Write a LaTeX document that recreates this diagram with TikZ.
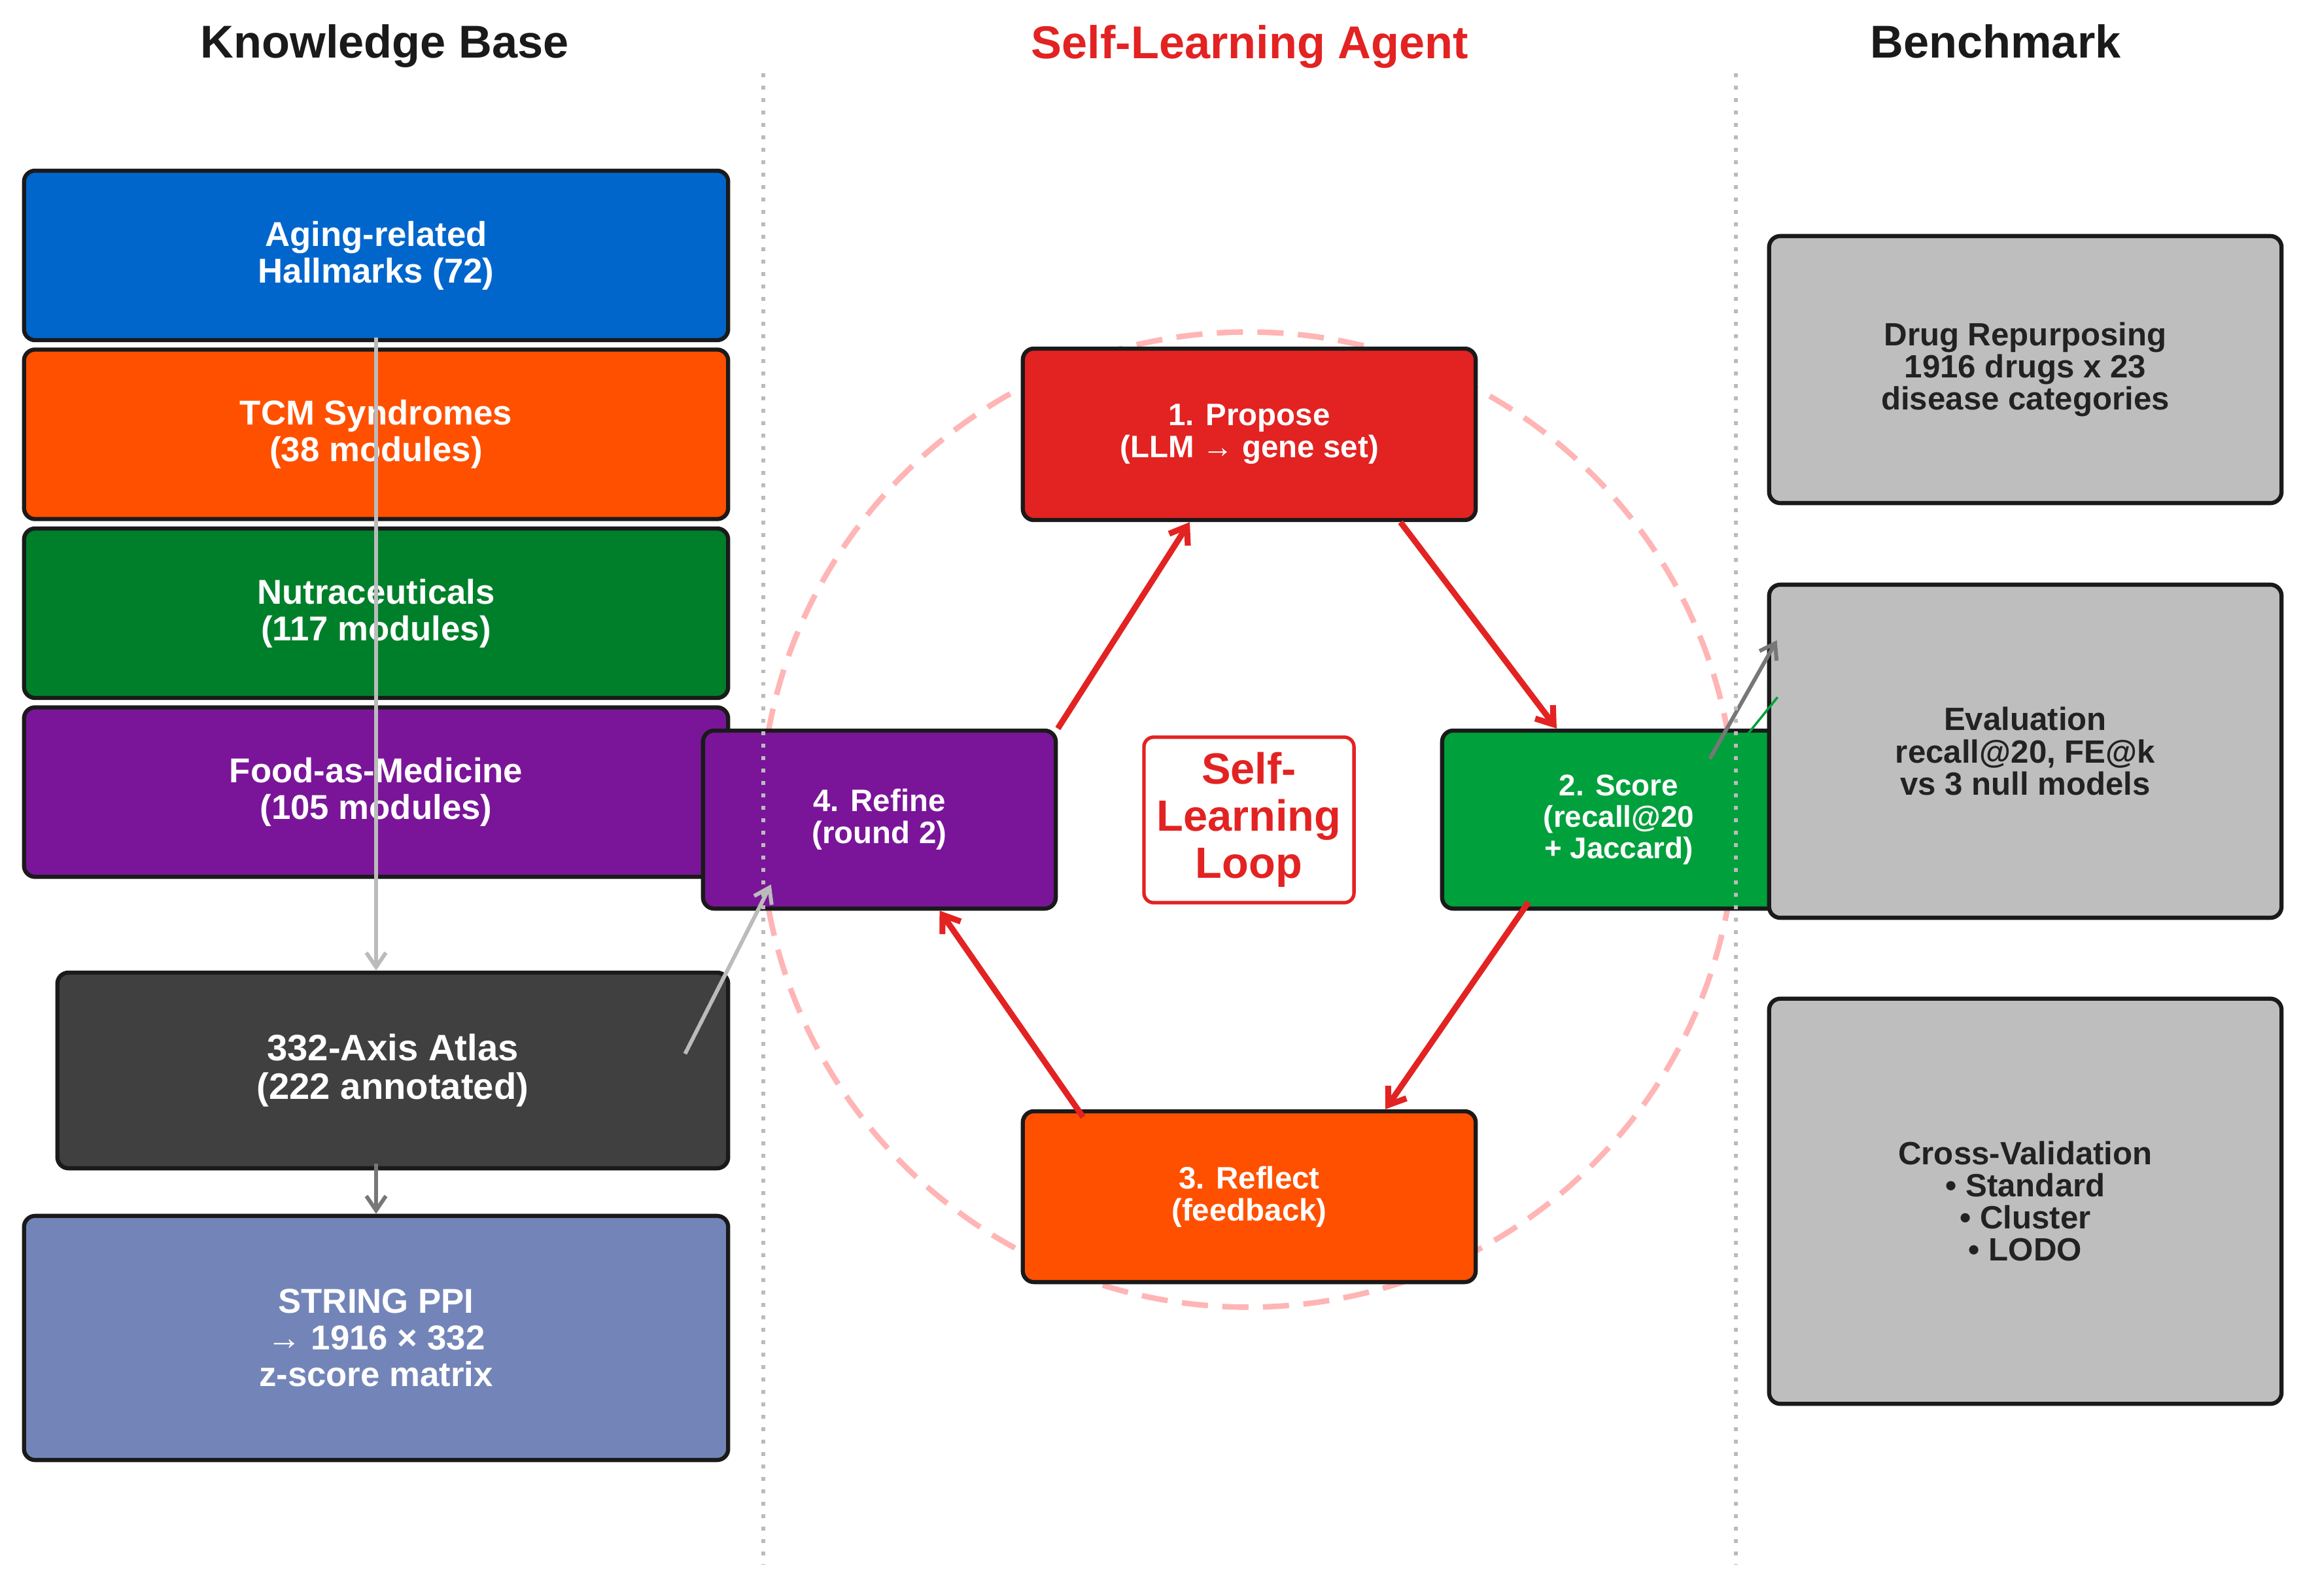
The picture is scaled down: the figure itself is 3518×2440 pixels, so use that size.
\documentclass[tikz,border=0pt]{standalone}
\usepackage{fontspec}
\setmainfont{Liberation Sans}
\usetikzlibrary{arrows.meta,calc}
\definecolor{cAging}{HTML}{0066CC}
\definecolor{cTCM}{HTML}{FF5000}
\definecolor{cNutra}{HTML}{007F2A}
\definecolor{cFood}{HTML}{7A1599}
\definecolor{cAtlas}{HTML}{404040}
\definecolor{cString}{HTML}{7385B8}
\definecolor{cPropose}{HTML}{E32222}
\definecolor{cScore}{HTML}{00A03C}
\definecolor{cBench}{HTML}{BEBEBE}
\definecolor{cRed}{HTML}{E32222}
\definecolor{cCircle}{HTML}{FFB5B5}
\definecolor{cLight}{HTML}{BBBBBB}
\definecolor{cDark}{HTML}{777777}
\definecolor{cLine}{HTML}{1A1A1A}
\definecolor{cDiv}{HTML}{BBBBBB}
\definecolor{cBenchText}{HTML}{222222}
\begin{document}
\begin{tikzpicture}[x=0.01cm,y=-0.01cm,
  box/.style={draw=cLine,line width=1.8pt,rounded corners=0.17cm,align=center,inner sep=0pt,text=white,font=\bfseries\fontsize{15}{16}\selectfont},
  kb/.style={box,minimum width=10.76cm,minimum height=2.59cm},
  loopbox/.style={box,font=\bfseries\fontsize{13.5}{14}\selectfont},
  bench/.style={box,fill=cBench,text=cBenchText,minimum width=7.83cm,font=\bfseries\fontsize{14}{14}\selectfont},
  title/.style={inner sep=0pt,anchor=base,font=\bfseries\fontsize{20}{24}\selectfont,text=cLine},
  redarrow/.style={draw=cRed,line width=2.6pt,-{Straight Barb[length=0.24cm,width=0.34cm]}},
  grayarrow/.style={draw=cLight,line width=1.7pt,-{Straight Barb[length=0.22cm,width=0.3cm]}},
  darkarrow/.style={grayarrow,draw=cDark},
  divider/.style={draw=cDiv,line width=1.7pt,dash pattern=on 1.7pt off 3.7pt}
]
\useasboundingbox (0,0) rectangle (3518,2440);
\fill[white] (0,0) rectangle (3518,2440);

% titles
\node[title] (tkb) at (588,89) {Knowledge Base};
\node[title,text=cRed] (tagent) at (1911,90) {Self-Learning Agent};
\node[title] (tbench) at (3051,89) {Benchmark};

% loop circle (behind)
\draw[cCircle,line width=2.4pt,dash pattern=on 0.4cm off 0.22cm] (1908,1253) circle[radius=7.45cm];

% knowledge base
\node[kb,fill=cAging] (aging) at (575,390.5) {Aging-related\\Hallmarks (72)};
\node[kb,fill=cTCM] (tcm) at (575,664) {TCM Syndromes\\(38 modules)};
\node[kb,fill=cNutra] (nutra) at (575,937.5) {Nutraceuticals\\(117 modules)};
\node[kb,fill=cFood] (food) at (575,1211) {Food-as-Medicine\\(105 modules)};
\node[box,fill=cAtlas,minimum width=10.25cm,minimum height=2.99cm,font=\bfseries\fontsize{16}{17}\selectfont] (atlas) at (600.5,1636.5) {332-Axis Atlas\\(222 annotated)};
\node[box,fill=cString,minimum width=10.76cm,minimum height=3.73cm] (string) at (575,2045.5) {STRING PPI\\→ 1916 × 332\\z-score matrix};

% loop
\node[loopbox,fill=cPropose,minimum width=6.92cm,minimum height=2.62cm] (propose) at (1910,664) {1. Propose\\(LLM → gene set)};
\node[loopbox,fill=cFood,minimum width=5.39cm,minimum height=2.72cm] (refine) at (1344.5,1253) {4. Refine\\(round 2)};
\node[loopbox,fill=cScore,minimum width=5.4cm,minimum height=2.72cm,font=\bfseries\fontsize{13}{13.7}\selectfont] (score) at (2475,1253) {2. Score\\(recall@20\\+ Jaccard)};
\node[loopbox,fill=cTCM,minimum width=6.92cm,minimum height=2.61cm] (reflect) at (1910,1829.5) {3. Reflect\\(feedback)};
\node[box,fill=white,draw=cRed,line width=1.5pt,rounded corners=0.15cm,text=cRed,minimum width=3.21cm,minimum height=2.53cm,font=\bfseries\fontsize{19}{20.5}\selectfont] (loop) at (1909.5,1253.5) {Self-\\Learning\\Loop};

% benchmark
\node[bench,minimum height=4.08cm] (drug) at (3096.5,565) {Drug Repurposing\\1916 drugs x 23\\disease categories};
\node[bench,minimum height=5.09cm] (eval) at (3096.5,1148.5) {Evaluation\\recall@20, FE@k\\vs 3 null models};
\node[bench,minimum height=6.19cm] (cross) at (3096.5,1836.5) {Cross-Validation\\• Standard\\• Cluster\\• LODO};

% red loop arrows
\draw[redarrow] (refine.north east) -- ([xshift=-0.91cm]propose.south);
\draw[redarrow] ([xshift=2.31cm]propose.south) -- ([xshift=-0.95cm]score.north);
\draw[redarrow] ([xshift=-1.38cm,yshift=0.13cm]score.south) -- ([xshift=2.08cm]reflect.north);
\draw[redarrow] ([xshift=-2.54cm,yshift=-0.12cm]reflect.north) -- ([xshift=0.92cm]refine.south);

% gray arrows
\draw[grayarrow] ([yshift=0.07cm]aging.south) -- (atlas.north -| aging.south);
\draw[darkarrow] ($(atlas.south -| string.north)+(0,-10)$) -- (string.north);
\draw[grayarrow] ([xshift=-0.69cm,yshift=0.255cm]atlas.east) -- ([xshift=1.07cm,yshift=0.4cm]refine.south west);
\draw[darkarrow] ([xshift=-1.34cm,yshift=-0.46cm]score.north east) -- ([xshift=0.15cm,yshift=1.695cm]eval.west);
\draw[cScore,line width=1pt] ([xshift=-0.75cm,yshift=-0.07cm]score.north east) -- ([xshift=0.16cm,yshift=0.825cm]eval.west);

% dividers
\draw[divider] (1167,112) -- (1167,2392);
\draw[divider] (2654,112) -- (2654,2392);
\end{tikzpicture}
\end{document}
